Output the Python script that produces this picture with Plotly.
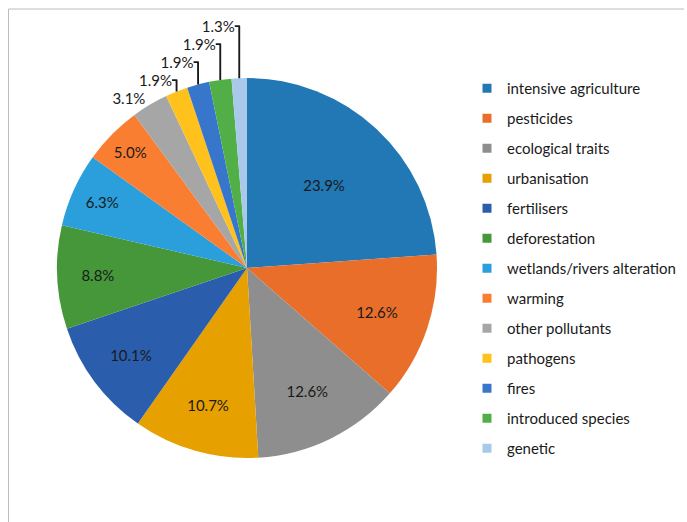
import plotly.graph_objects as go

categories = ["intensive agriculture", "pesticides", "ecological traits", "urbanisation",
              "fertilisers", "deforestation", "wetlands/rivers alteration", "warming",
              "other pollutants", "pathogens", "fires", "introduced species", "genetic"]
values = [23.9, 12.6, 12.6, 10.7, 10.1, 8.8, 6.3, 5.0, 3.1, 1.9, 1.9, 1.9, 1.3]
colors = ["#2277B5", "#E86E2A", "#8E8E8E", "#E6A100", "#2A5EAD", "#45973A",
          "#2A9FDB", "#F97E32", "#A6A6A6", "#FFC11C", "#3876CC", "#52AF47", "#A9C9EA"]
text_pos = ["inside"] * 8 + ["outside"] * 5

FONT = "Lato"
W, H = 687, 522

fig = go.Figure()
fig.add_trace(go.Pie(
    labels=categories, values=values, sort=False, direction="clockwise", rotation=0,
    marker=dict(colors=colors, line=dict(width=0)),
    texttemplate="%{value:.1f}%", textposition=text_pos,
    insidetextorientation="horizontal",
    textfont=dict(family=FONT, size=15, color="#1a1a1a"),
    domain=dict(x=[57 / W, 437 / W], y=[1 - 458 / H, 1 - 78 / H]),
    showlegend=False, hoverinfo="label+percent", automargin=False,
))

for name, col in zip(categories, colors):
    fig.add_trace(go.Scatter(
        x=[None], y=[None], mode="markers", name=name, legendgroup=name,
        marker=dict(symbol="square", size=9, color=col), showlegend=True,
    ))

fig.update_layout(
    width=W, height=H, margin=dict(l=0, r=0, t=0, b=0),
    paper_bgcolor="white", plot_bgcolor="white",
    xaxis=dict(visible=False), yaxis=dict(visible=False),
    legend=dict(x=467 / W, y=1 - 72 / H, xanchor="left", yanchor="top",
                font=dict(family=FONT, size=15, color="#1a1a1a"),
                tracegroupgap=7.5, itemwidth=30, bgcolor="rgba(0,0,0,0)"),
    shapes=[
        dict(type="line", xref="paper", yref="paper", x0=8.5 / W, x1=8.5 / W, y0=0, y1=1 - 9 / H,
             line=dict(color="#BDBDBD", width=1)),
        dict(type="line", xref="paper", yref="paper", x0=8.5 / W, x1=684 / W, y0=1 - 9 / H, y1=1 - 9 / H,
             line=dict(color="#BDBDBD", width=1)),
    ],
)

fig.write_html("out.html")
